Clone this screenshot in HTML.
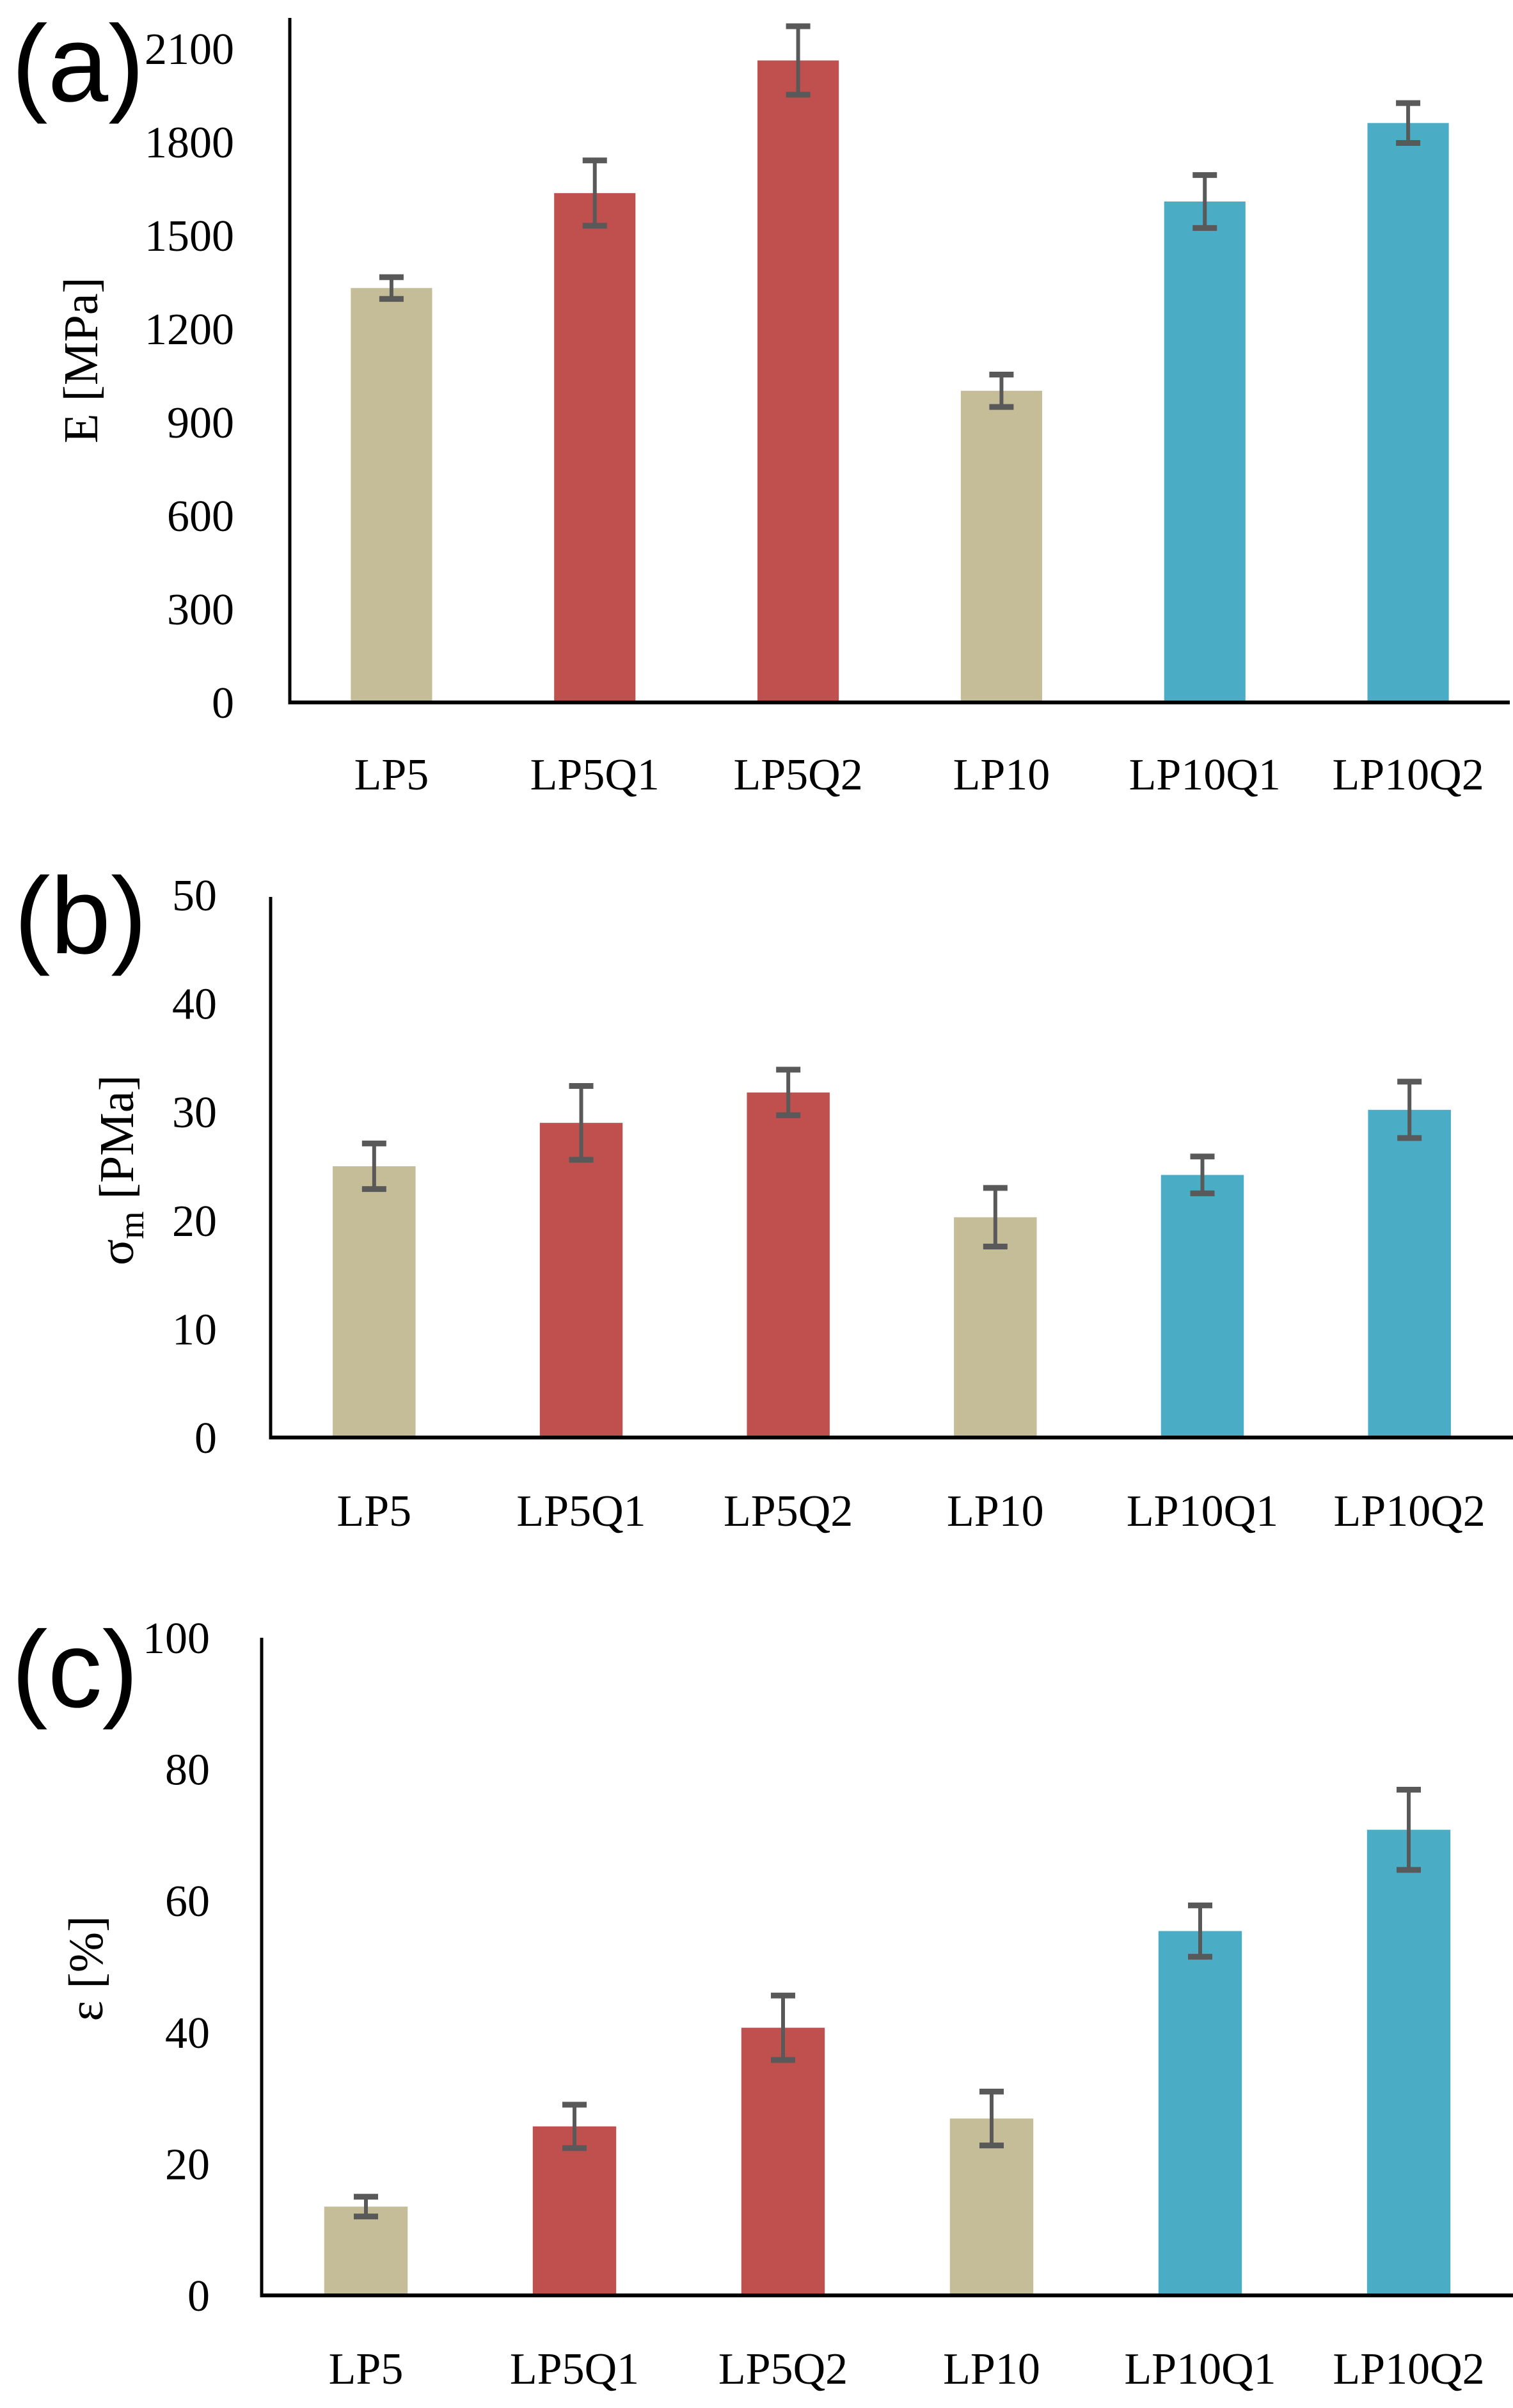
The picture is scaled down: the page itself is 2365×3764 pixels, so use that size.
<!DOCTYPE html>
<html><head><meta charset="utf-8"><style>
html,body{margin:0;padding:0;background:#fff;}
svg{display:block;}
text{font-family:"Liberation Serif",serif;fill:#000;}
.lab{font-family:"Liberation Sans",sans-serif;}
</style></head><body>
<svg id="fig" width="2365" height="3764" viewBox="0 0 2365 3764" xmlns="http://www.w3.org/2000/svg"></svg>
<script>
const categories = ["LP5","LP5Q1","LP5Q2","LP10","LP10Q1","LP10Q2"];
const barColors = ["#C4BD97","#C0504D","#C0504D","#C4BD97","#4BACC6","#4BACC6"];
const valuesE = [1331,1636,2062,1001,1609,1861];
const errE = [35,105,110,52,85,64];
const ticksE = [0,300,600,900,1200,1500,1800,2100];
const valuesS = [25.0,29.0,31.8,20.3,24.2,30.2];
const errS = [2.1,3.4,2.1,2.7,1.7,2.6];
const ticksS = [0,10,20,30,40,50];
const valuesEps = [13.5,25.7,40.7,26.9,55.4,70.8];
const errEps = [1.5,3.3,4.9,4.1,3.9,6.1];
const ticksEps = [0,20,40,60,80,100];

const NS="http://www.w3.org/2000/svg";
const svg=document.getElementById('fig');
function mk(tag,attrs,parent){const e=document.createElementNS(NS,tag);for(const k in attrs)e.setAttribute(k,attrs[k]);(parent||svg).appendChild(e);return e;}

function chart(id,o,vals,errs,ticks){
  const g=mk('g',{});
  
  
  const max=ticks[ticks.length-1];
  const y=v=>o.y0-(v/max)*(o.y0-o.yTop);
  const band=(o.xR-o.x0)/categories.length;
  const xc=i=>o.x0+band*(i+0.5);
  const bw=band*0.4;
  vals.forEach((v,i)=>{
    const r=mk('rect',{x:xc(i)-bw/2,y:y(v),width:bw,height:o.y0-y(v),fill:barColors[i]},g);
    
    
  });
  vals.forEach((v,i)=>{
    const eg=mk('g',{stroke:'#595959','stroke-width':6},g);
    
    
    const t=y(v+errs[i]),b=y(v-errs[i]),c=xc(i);
    mk('line',{x1:c,x2:c,y1:t,y2:b},eg);
    mk('line',{x1:c-19,x2:c+19,y1:t,y2:t,'stroke-width':9},eg);
    mk('line',{x1:c-19,x2:c+19,y1:b,y2:b,'stroke-width':9},eg);
  });
  const ya=mk('line',{x1:o.x0,x2:o.x0,y1:o.axTop,y2:o.y0+3,stroke:'#000','stroke-width':5},g);
  
  
  const xa=mk('line',{x1:o.x0-2,x2:o.xR,y1:o.y0,y2:o.y0,stroke:'#000','stroke-width':6},g);
  
  
  ticks.forEach(t=>{
    const tx=mk('text',{x:o.tickX,y:y(t)+24,'text-anchor':'end','font-size':70},g);
    tx.textContent=t;
    
    
  });
  categories.forEach((c,i)=>{
    const tx=mk('text',{x:xc(i),y:o.labY+24,'text-anchor':'middle','font-size':70},g);
    tx.textContent=c;
    
    
  });
  const pl=mk('text',{x:o.pl[0],y:o.pl[1],'font-size':170,class:'lab'},g);
  pl.textContent='('+id+')';
  
  
  const tt=mk('text',{x:0,y:0,'text-anchor':'middle','font-size':76,transform:`translate(${o.title[0]},${o.title[1]}) rotate(-90)`},g);
  tt.innerHTML=o.titleHTML;
  
  
}
chart('a',{x0:453,xR:2360,y0:1098,yTop:76,axTop:28,tickX:366,labY:1210,pl:[18,158],title:[152,563],titleHTML:'E [MPa]'},valuesE,errE,ticksE);
chart('b',{x0:423,xR:2365,y0:2247,yTop:1399,axTop:1402,tickX:339,labY:2361,pl:[22,1490],title:[208,1829],titleHTML:'σ<tspan dy="16" font-size="56">m</tspan><tspan dy="-16"> [PMa]</tspan>'},valuesS,errS,ticksS);
chart('c',{x0:409,xR:2365,y0:3588,yTop:2560,axTop:2560,tickX:328,labY:3702,pl:[18,2668],title:[160,3077],titleHTML:'ε [%]'},valuesEps,errEps,ticksEps);
</script>
</body></html>
